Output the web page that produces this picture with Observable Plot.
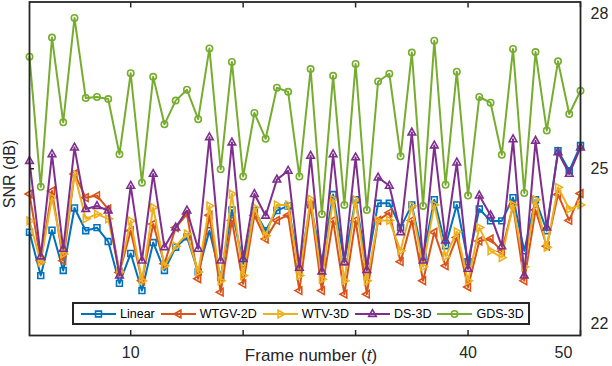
<!DOCTYPE html>
<html><head><meta charset="utf-8">
<script src="https://cdn.jsdelivr.net/npm/d3@7"></script>
<script src="https://cdn.jsdelivr.net/npm/@observablehq/plot@0.6"></script>
<style>
body{margin:0;background:#fff;}
#wrap{position:relative;width:612px;height:366px;font-family:"Liberation Sans",Arial,sans-serif;}
#legend{position:absolute;left:72px;top:302px;height:19px;border:2px solid #262626;background:#fff;display:flex;align-items:center;padding:0 4px 0 7px;font-size:12.5px;color:#000;white-space:nowrap;}
.item{display:flex;align-items:center;margin-right:6px}
.item:last-child{margin-right:0}
.item svg{margin-right:4px}
</style></head><body><div id="wrap"></div>
<script>
const frames = [1,2,3,4,5,6,7,8,9,10,11,12,13,14,15,16,17,18,19,20,21,22,23,24,25,26,27,28,29,30,31,32,33,34,35,36,37,38,39,40,41,42,43,44,45,46,47,48,49,50];
const seriesNames = ["Linear","WTGV-2D","WTV-3D","DS-3D","GDS-3D"];
const linear = [23.77,22.93,23.81,23.03,24.24,23.80,23.86,23.59,22.78,23.36,22.64,23.57,23.03,23.48,23.68,23.00,23.80,22.90,24.20,23.16,24.19,23.80,24.19,24.28,23.10,24.30,23.20,24.50,23.20,24.40,23.10,24.33,24.33,23.86,24.30,23.30,24.40,23.51,24.30,23.20,24.22,23.99,23.99,24.44,23.41,24.40,23.80,25.35,24.96,25.45];
const wtgv2d = [24.51,23.22,24.57,23.22,24.90,24.44,24.48,24.22,22.99,23.80,22.83,23.93,23.16,23.86,24.12,22.87,24.10,22.61,24.00,22.77,24.10,23.64,24.00,24.10,22.64,24.30,22.64,24.00,22.57,24.00,22.57,24.00,24.15,23.20,24.00,22.83,23.77,23.12,23.67,22.71,23.60,23.64,23.40,24.28,22.83,24.20,23.50,24.50,24.00,24.52];
const wtv3d = [23.99,23.19,24.44,23.35,24.90,24.03,24.12,24.03,23.00,23.99,22.83,24.25,23.12,23.50,23.74,23.00,24.28,22.83,24.51,22.93,24.25,23.70,24.30,24.30,22.93,24.41,22.86,24.41,22.83,24.40,22.83,24.00,24.00,23.41,24.28,23.10,24.30,23.30,23.78,22.83,23.86,23.41,23.28,24.30,23.10,24.40,23.48,24.64,24.22,24.30];
const ds3d = [25.15,23.30,25.28,23.45,25.41,24.22,24.28,24.19,22.93,24.67,23.22,24.90,23.48,23.86,24.19,23.45,25.61,23.22,25.51,23.25,24.51,24.09,24.79,24.96,23.08,25.25,23.01,25.28,23.19,25.22,23.04,24.83,24.67,23.77,25.70,23.22,25.45,23.61,25.12,23.06,24.48,24.10,23.50,25.57,22.93,25.54,23.86,25.32,24.90,25.41];
const gds3d = [27.17,24.65,27.54,25.90,27.92,26.37,26.39,26.35,25.28,26.85,24.73,26.78,25.86,26.32,26.53,25.96,27.33,24.99,27.07,24.85,26.08,25.58,26.57,26.49,24.85,26.93,24.12,26.80,24.30,27.03,24.20,26.69,26.84,25.24,27.25,24.28,27.48,24.69,26.88,24.48,26.39,26.28,25.27,27.32,24.53,27.26,25.74,27.08,26.06,26.51];
const xTicks = [10,20,30,40,50];
const xTickLabels = [10,40];   // 20 and 30 labels are hidden behind the axis title in the figure
const xEdgeLabel = [50];
const yTicks = [22,25,28];
const yInnerTicks = [25];
const colors = ["#0072BD","#D95319","#EDB120","#7E2F8E","#77AC30"];

function triangle(angle){
  return {draw(ctx, size){
    const r = Math.sqrt(size/Math.PI)*1.25;
    const base = [[0,-r],[r*0.87,r*0.55],[-r*0.87,r*0.55]];
    const a = angle*Math.PI/180, c=Math.cos(a), s=Math.sin(a);
    base.forEach(([x,y],i)=>{const X=x*c-y*s, Y=x*s+y*c; i?ctx.lineTo(X,Y):ctx.moveTo(X,Y);});
    ctx.closePath();
  }};
}
const symbols = [d3.symbolSquare, triangle(-90), triangle(90), triangle(0), d3.symbolCircle];
const symR = [3.3,3.5,3.5,3.5,3.2];
const values = [linear, wtgv2d, wtv3d, ds3d, gds3d];
const rows = values.map(vals => frames.map((f,i)=>({frame:f, snr:vals[i]})));

const marks = [];
rows.forEach((data,k)=>{
  marks.push(Plot.line(data,{x:"frame",y:"snr",stroke:colors[k],strokeWidth:2}));
  marks.push(Plot.dot(data,{x:"frame",y:"snr",symbol:()=>symbols[k],r:symR[k],stroke:colors[k],strokeWidth:1.6,fill:"none"}));
});
const fmt = d => String(d);

const chart = Plot.plot({
  width:612, height:366,
  marginLeft:29, marginRight:32, marginTop:1.5, marginBottom:31,
  style:{fontFamily:'"Liberation Sans",Arial,sans-serif', color:"#262626", background:"#fff"},
  x:{domain:[1,50]},
  y:{domain:[21.77,28.23]},
  symbol:{type:"identity"},
  marks:[
    ...marks,
    Plot.axisX(xTickLabels,{anchor:"bottom",tickSize:0,tickPadding:11,fontSize:16,label:null,tickFormat:fmt}),
    Plot.axisX(xEdgeLabel,{anchor:"bottom",tickSize:0,tickPadding:11,dx:-17,fontSize:16,label:null,tickFormat:fmt}),
    Plot.axisX(xTicks,{anchor:"bottom",tickSize:5,dy:-5,tickFormat:()=>"",label:null,strokeWidth:1.5}),
    Plot.axisX(xTicks,{anchor:"top",tickSize:5,dy:5,tickFormat:()=>"",label:null,strokeWidth:1.5}),
    Plot.axisY(yInnerTicks,{anchor:"left",tickSize:5,dx:5,tickFormat:()=>"",label:null,strokeWidth:1.5}),
    Plot.axisY(yTicks,{anchor:"right",tickSize:0,tickPadding:10,fontSize:16,label:null,tickFormat:fmt}),
    Plot.frame({stroke:"#262626",strokeWidth:1.8})
  ]
});
document.getElementById("wrap").appendChild(chart);

const svg = d3.select(chart);
const xl = svg.append("text").attr("x",311).attr("y",361).attr("text-anchor","middle")
  .attr("font-size",17).attr("fill","#262626");
xl.append("tspan").text("Frame number (");
xl.append("tspan").attr("font-style","italic").text("t");
xl.append("tspan").text(")");
svg.append("text").attr("transform","translate(15,174) rotate(-90)").attr("text-anchor","middle")
  .attr("font-size",16).attr("fill","#262626").text("SNR (dB)");

// legend
const leg = d3.select("#wrap").append("div").attr("id","legend");
seriesNames.forEach((name,k)=>{
  const it = leg.append("div").attr("class","item");
  const s = it.append("svg").attr("width",35).attr("height",12);
  s.append("line").attr("x1",0).attr("x2",35).attr("y1",6).attr("y2",6).attr("stroke",colors[k]).attr("stroke-width",2);
  s.append("path").attr("transform","translate(17.5,6)")
    .attr("d", d3.symbol(symbols[k], Math.PI*symR[k]*symR[k])())
    .attr("fill","none").attr("stroke",colors[k]).attr("stroke-width",1.6);
  it.append("span").text(name);
});
</script></body></html>
